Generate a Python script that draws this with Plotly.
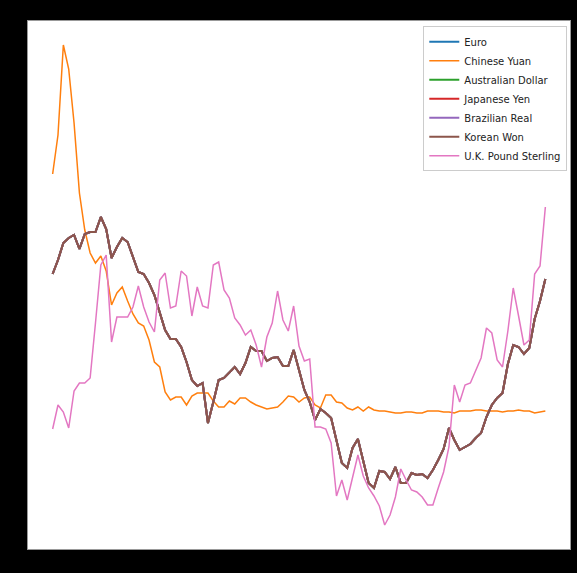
import plotly.graph_objects as go

# Standardised currency series (z-scores), one value per period
CHINESE_YUAN = [
    1.26, 1.65, 2.55, 2.31, 1.77, 1.07, 0.70, 0.47, 0.37, 0.44, 0.29, -0.05,
    0.07, 0.13, -0.01, -0.14, -0.23, -0.26, -0.40, -0.62, -0.67, -0.92,
    -1.00, -0.97, -0.97, -1.05, -0.96, -0.93, -0.93, -0.93, -1.01, -1.07,
    -1.07, -1.01, -1.04, -0.98, -0.98, -1.02, -1.05, -1.07, -1.09, -1.08,
    -1.07, -1.02, -0.96, -0.97, -1.02,
    -0.98, -0.97, -1.05, -1.08, -0.95, -0.95, -1.02, -1.03, -1.08, -1.10,
    -1.07, -1.11, -1.07, -1.10,
    -1.11, -1.11, -1.12, -1.13, -1.13, -1.12, -1.12, -1.13, -1.13, -1.11,
    -1.11, -1.11, -1.12, -1.12, -1.13, -1.11, -1.11, -1.11, -1.10, -1.10,
    -1.11, -1.11, -1.11, -1.12, -1.11, -1.11, -1.10, -1.11, -1.11, -1.13,
    -1.12, -1.11,
]

# Euro, Australian Dollar, Japanese Yen, Brazilian Real and Korean Won
# coincide in the picture (all drawn under the Korean Won line)
KOREAN_WON = [
    0.26, 0.40, 0.57, 0.62, 0.65, 0.51, 0.66, 0.68, 0.68, 0.83, 0.71, 0.42,
    0.53, 0.62, 0.58, 0.43, 0.28, 0.26, 0.17, 0.05, -0.13, -0.30,
    -0.39, -0.39, -0.47, -0.62, -0.80, -0.86, -0.83, -1.23, -1.02, -0.80,
    -0.78, -0.72, -0.67, -0.74, -0.63, -0.47,
    -0.51, -0.51, -0.61, -0.58, -0.57, -0.66, -0.66, -0.50, -0.71,
    -0.90, -1.02, -1.20, -1.09, -1.13, -1.18, -1.40, -1.63, -1.68, -1.48,
    -1.39, -1.60, -1.83, -1.88, -1.71, -1.72, -1.79, -1.67, -1.83, -1.83,
    -1.73, -1.75, -1.74, -1.78,
    -1.70, -1.60, -1.49, -1.28, -1.40, -1.50, -1.47, -1.44, -1.38, -1.33,
    -1.17, -1.05, -0.98, -0.93, -0.64, -0.45, -0.47, -0.54, -0.48, -0.19,
    -0.01, 0.21,
]
EURO = list(KOREAN_WON)
AUSTRALIAN_DOLLAR = list(KOREAN_WON)
JAPANESE_YEN = list(KOREAN_WON)
BRAZILIAN_REAL = list(KOREAN_WON)

UK_POUND = [
    -1.29, -1.05, -1.12, -1.28, -0.91, -0.83, -0.83, -0.78, -0.23, 0.35,
    0.45, -0.42, -0.17, -0.17, -0.17, -0.07, 0.14, -0.07, -0.22, -0.32,
    0.20, 0.27,
    -0.08, -0.06, 0.29, 0.24, -0.16, 0.13, -0.06, -0.08, 0.35, 0.38, 0.10,
    0.02, -0.18, -0.25, -0.35, -0.30, -0.45, -0.67, -0.37, -0.23, 0.09,
    -0.20, -0.31, -0.06, -0.46, -0.61, -0.59, -1.27, -1.27, -1.29, -1.43,
    -1.96, -1.80, -2.00, -1.78, -1.55, -1.76, -1.88, -1.96, -2.06, -2.25,
    -2.15, -1.97, -1.69, -1.80, -1.90, -1.92, -1.97, -2.05, -2.05, -1.88,
    -1.72, -1.47, -0.85, -1.02, -0.85, -0.83, -0.71, -0.58, -0.28, -0.33,
    -0.60, -0.67, -0.31, 0.12, -0.16, -0.45, -0.40, 0.26, 0.34, 0.93,
]

SERIES = [
    ("Euro", EURO, "#1f77b4"),
    ("Chinese Yuan", CHINESE_YUAN, "#ff7f0e"),
    ("Australian Dollar", AUSTRALIAN_DOLLAR, "#2ca02c"),
    ("Japanese Yen", JAPANESE_YEN, "#d62728"),
    ("Brazilian Real", BRAZILIAN_REAL, "#9467bd"),
    ("Korean Won", KOREAN_WON, "#8c564b"),
    ("U.K. Pound Sterling", UK_POUND, "#e377c2"),
]

periods = list(range(len(KOREAN_WON)))

fig = go.Figure()
for name, values, colour in SERIES:
    # the five stacked series look heavier in the original
    width = 1.5 if name in ("Chinese Yuan", "U.K. Pound Sterling") else 2
    fig.add_trace(go.Scatter(
        x=periods,
        y=values,
        mode="lines",
        name=name,
        line=dict(color=colour, width=width),
    ))

# matplotlib-style 5% autoscale margins
all_vals = [v for _, vals, _ in SERIES for v in vals]
lo, hi = min(all_vals), max(all_vals)
pad_y = 0.05 * (hi - lo)
pad_x = 0.05 * (periods[-1] - periods[0])

fig.update_layout(
    width=577,
    height=573,
    paper_bgcolor="black",
    plot_bgcolor="white",
    margin=dict(l=28, r=7, t=21, b=24),
    font=dict(family="DejaVu Sans", size=10, color="black"),
    showlegend=True,
    legend=dict(
        x=0.995, y=0.99, xanchor="right", yanchor="top",
        bgcolor="rgba(255,255,255,0.8)",
        bordercolor="#cccccc", borderwidth=1,
        font=dict(size=10, color="#222222"),
        itemwidth=30,
        tracegroupgap=0,
    ),
)
fig.update_xaxes(
    range=[periods[0] - pad_x, periods[-1] + pad_x],
    showgrid=False, zeroline=False, showticklabels=False, ticks="",
    showline=True, linecolor="#999999", linewidth=1, mirror=True,
)
fig.update_yaxes(
    range=[lo - pad_y, hi + pad_y],
    showgrid=False, zeroline=False, showticklabels=False, ticks="",
    showline=True, linecolor="#999999", linewidth=1, mirror=True,
)

fig.write_html(
    "out.html",
    config={"displayModeBar": False},
    post_script="document.body.style.margin='0';"
                "document.body.style.background='black';",
)
